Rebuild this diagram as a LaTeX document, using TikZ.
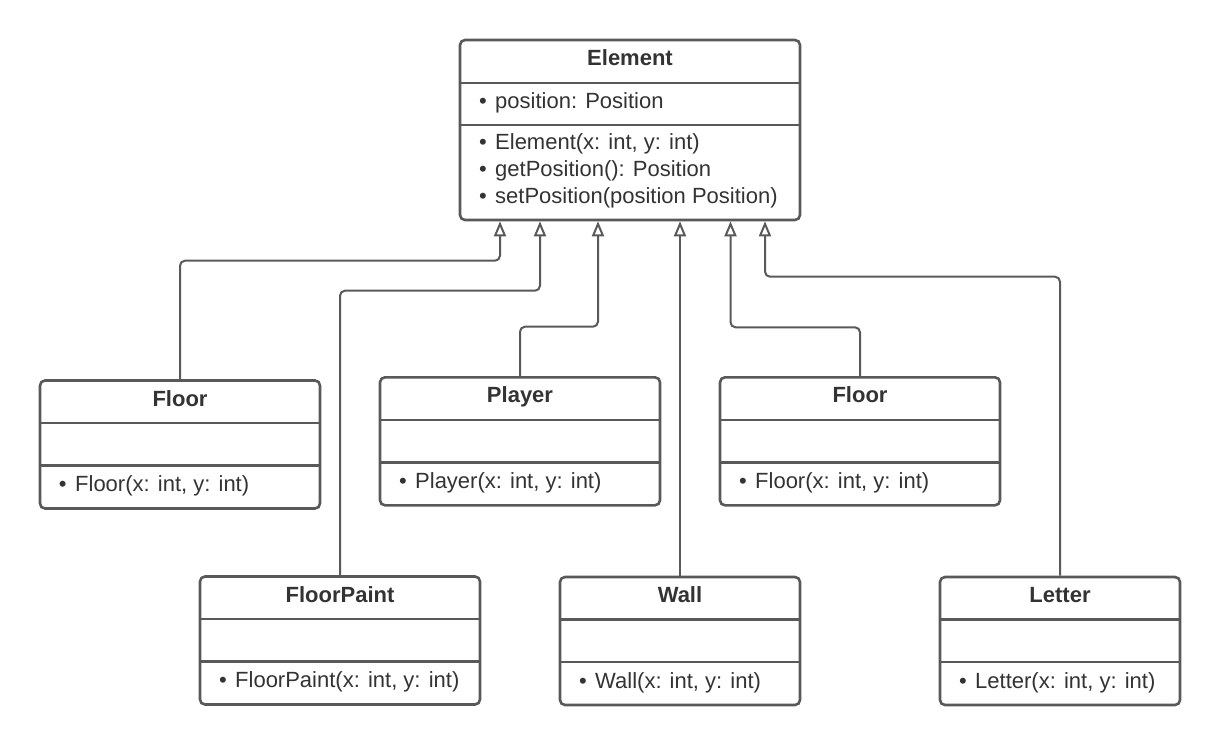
\documentclass[tikz,border=0pt]{standalone}
\usepackage{fontspec}
\setmainfont{Liberation Sans}
\usetikzlibrary{arrows.meta}
\definecolor{lineC}{HTML}{595959}
\definecolor{textC}{HTML}{333333}
\tikzset{
  cls/.style={draw=lineC, line width=2.6pt, rounded corners=5pt, inner sep=0pt, fill=white},
  divider/.style={draw=lineC, line width=2.5pt},
  ttl/.style={anchor=base, inner sep=0pt, text=textC, font=\fontsize{22}{26}\selectfont\bfseries},
  mem/.style={anchor=base west, inner sep=0pt, text=textC, font=\fontsize{22}{26}\selectfont},
  inh/.style={draw=lineC, line width=2pt, rounded corners=5pt,
    -{Triangle[open, length=15pt, width=12pt, line width=2pt]}},
}
\newcommand{\bul}{\llap{\textbullet\hspace{8.5pt}}}
% name, cx, cy, width, title, method
\newcommand{\smallcls}[6]{%
  \node[cls, minimum width=#4pt, minimum height=128pt] (#1) at (#2,#3) {};
  \draw[divider] (#1.west |- 0,#3-21.5) -- (#1.east |- 0,#3-21.5);
  \draw[divider] (#1.west |- 0,#3+21) -- (#1.east |- 0,#3+21);
  \node[ttl] (#1-t) at (#2,#3-38.5) {#5};
  \node[mem] (#1-m) at (#2-#4/2+35,#3+47) {\bul #6};
}
\begin{document}
\begin{tikzpicture}[x=1pt,y=-1pt]
\useasboundingbox (0,0) rectangle (1220,746);

% Element
\node[cls, minimum width=340pt, minimum height=180pt] (Element) at (630,130) {};
\draw[divider] (Element.west |- 0,83) -- (Element.east |- 0,83);
\draw[divider] (Element.west |- 0,125) -- (Element.east |- 0,125);
\node[ttl] (el-t) at (630,65.7) {Element};
\node[mem] (el-a) at (495,108.3) {\bul position: Position};
\node[mem] (el-m1) at (495,150) {\bul Element(x: int, y: int)};
\node[mem] (el-m2) at (495,177) {\bul getPosition(): Position};
\node[mem] (el-m3) at (495,204) {\bul setPosition(position Position)};

\smallcls{floorA}{180}{444.5}{280}{Floor}{Floor(x: int, y: int)}
\smallcls{player}{520}{441.3}{280}{Player}{Player(x: int, y: int)}
\smallcls{floorB}{860}{441.3}{280}{Floor}{Floor(x: int, y: int)}
\smallcls{floorPaint}{340}{640.5}{280}{FloorPaint}{FloorPaint(x: int, y: int)}
\smallcls{wall}{680}{641}{240}{Wall}{Wall(x: int, y: int)}
\smallcls{letter}{1060}{641}{240}{Letter}{Letter(x: int, y: int)}

% bend points
\coordinate (j1) at (500,260.7);
\coordinate (j2) at (540,290.7);
\coordinate (j3) at (598,326.7);
\coordinate (j5) at (730.5,327.3);
\coordinate (j6) at (765,276.7);

\draw[inh] (floorA.north) |- (j1) -- (j1 |- Element.south);
\draw[inh] (floorPaint.north) |- (j2) -- (j2 |- Element.south);
\draw[inh] (player.north) |- (j3) -- (j3 |- Element.south);
\draw[inh] (wall.north) -- (wall.north |- Element.south);
\draw[inh] (floorB.north) |- (j5) -- (j5 |- Element.south);
\draw[inh] (letter.north) |- (j6) -- (j6 |- Element.south);
\end{tikzpicture}
\end{document}
